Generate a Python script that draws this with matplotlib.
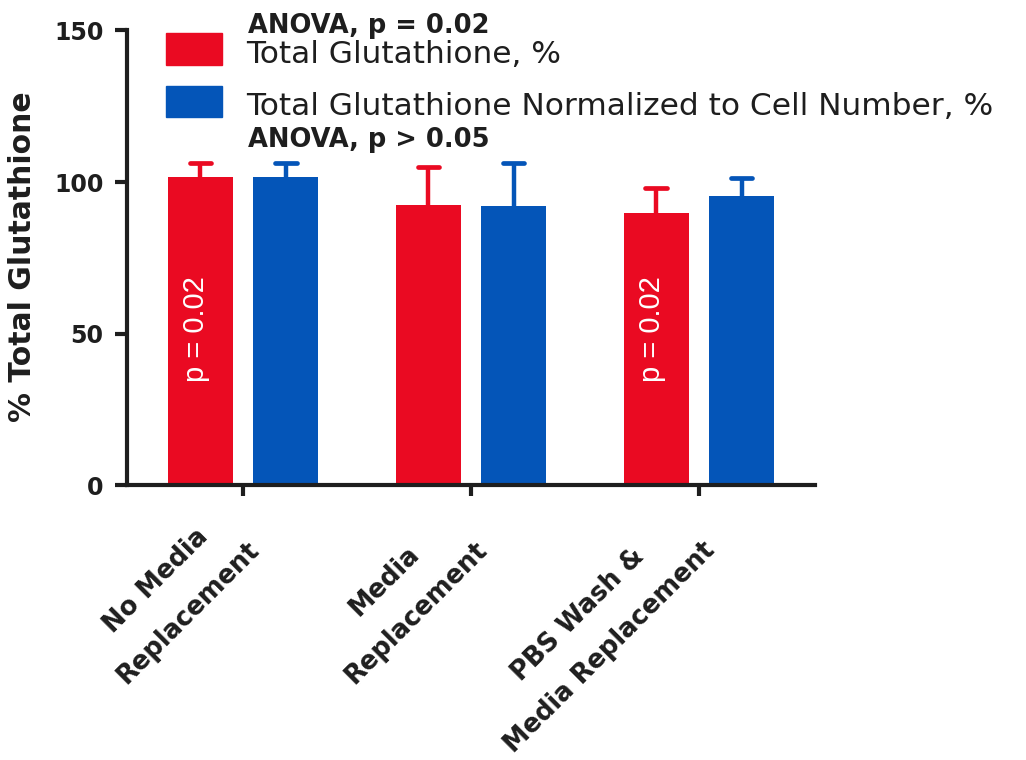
import matplotlib
matplotlib.use("Agg")
import matplotlib.pyplot as plt
import matplotlib.transforms as mtransforms
from matplotlib.patches import Rectangle
import numpy as np

# data
groups = ["No Media\nReplacement", "Media\nReplacement", "PBS Wash &\nMedia Replacement"]
total_gsh = [101.6, 92.3, 89.7]
total_gsh_err = [4.8, 12.7, 8.2]
norm_gsh = [101.7, 92.1, 95.5]
norm_gsh_err = [4.7, 14.1, 5.9]
series_names = ["Total Glutathione, %", "Total Glutathione Normalized to Cell Number, %"]
anova_notes = ["ANOVA, p = 0.02", "ANOVA, p > 0.05"]
bar_notes = ["p = 0.02", None, "p = 0.02"]
yticks = [0, 50, 100, 150]

RED = "#EA0A22"
BLUE = "#0455B8"
INK = "#1e1e1e"

W, H = 1026, 760
fig = plt.figure(figsize=(W / 100, H / 100), dpi=100)
ax = fig.add_axes([127 / W, 1 - 485 / H, (815 - 127) / W, (485 - 30.5) / H])

x = np.arange(len(groups))
bw = 0.285
off = 0.1875
cap = 0.047  # half width of the error cap, data units

for vals, errs, col, sgn in [(total_gsh, total_gsh_err, RED, -1), (norm_gsh, norm_gsh_err, BLUE, 1)]:
    xs = x + sgn * off
    vals = np.array(vals)
    tops = vals + np.array(errs)
    ax.bar(xs, vals, bw, color=col, zorder=2)
    # one-sided (upper) error bars
    ax.vlines(xs, vals, tops, color=col, lw=3.2, zorder=1)
    ax.hlines(tops, xs - cap, xs + cap, color=col, lw=3.4, zorder=1, capstyle="round")

# p-value notes inside the red bars
for xi, note in zip(x, bar_notes):
    if note:
        ax.text(xi - off - 0.02, 51.5, note, rotation=90, color="white",
                ha="center", va="center", fontsize=21, family="Liberation Sans")

ax.set_xlim(-0.51, 2.51)
ax.set_ylim(0, 150)
ax.spines[["top", "right"]].set_visible(False)
for s in ["left", "bottom"]:
    ax.spines[s].set_linewidth(3)
    ax.spines[s].set_color(INK)
    ax.spines[s].set_capstyle("projecting")

ax.set_yticks(yticks)
ax.set_yticklabels([str(t) for t in yticks], fontsize=17, fontweight="bold", color=INK)
ax.tick_params(axis="y", length=9, width=3, color=INK, pad=8)
ax.set_xticks(x)
ax.set_xticklabels(groups, rotation=45, ha="right", va="top", fontsize=18.5,
                   fontweight="bold", color=INK, linespacing=2.0, multialignment="center")
ax.tick_params(axis="x", length=8, width=3, color=INK, pad=6)
shift = mtransforms.ScaledTranslation(22 / 100, 0, fig.dpi_scale_trans)
for lab in ax.get_xticklabels():
    lab.set_transform(lab.get_transform() + shift)

fig.text(23 / W, 1 - 257 / H, "% Total Glutathione", rotation=90, ha="center", va="center",
         fontsize=21.5, fontweight="bold", color=INK)

# legend, drawn by hand in figure pixels
fig.patches.append(Rectangle((166 / W, 1 - 65 / H), 56 / W, 32 / H, transform=fig.transFigure,
                             color=RED, figure=fig))
fig.patches.append(Rectangle((166 / W, 1 - 117 / H), 56 / W, 31 / H, transform=fig.transFigure,
                             color=BLUE, figure=fig))
fig.text(248 / W, 1 - 33 / H, anova_notes[0], fontsize=18.5, fontweight="bold", color=INK, va="baseline")
fig.text(246 / W, 1 - 63 / H, series_names[0], fontsize=22.5, color=INK, va="baseline")
fig.text(246 / W, 1 - 115 / H, series_names[1], fontsize=22.5, color=INK, va="baseline")
fig.text(248 / W, 1 - 147 / H, anova_notes[1], fontsize=18.5, fontweight="bold", color=INK, va="baseline")

fig.savefig("out.png", dpi=100)
